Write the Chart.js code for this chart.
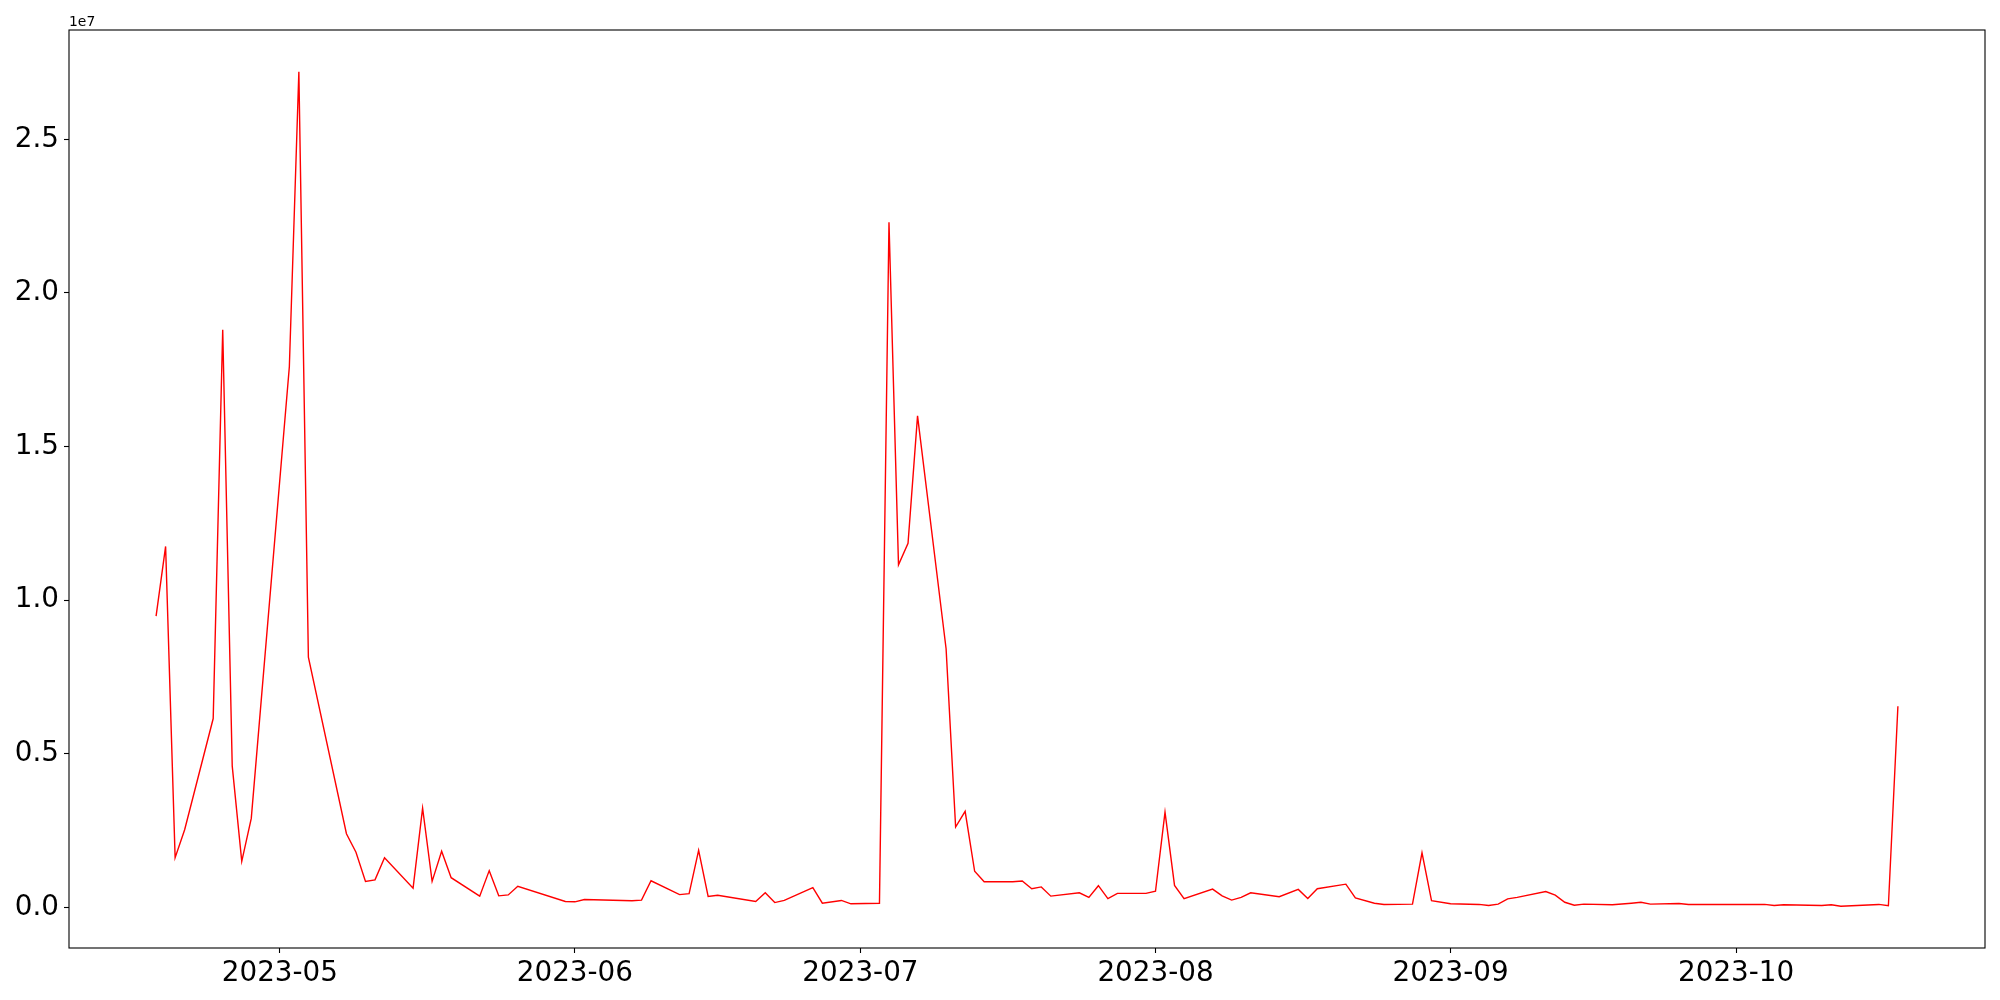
<!DOCTYPE html>
<html>
<head>
<meta charset="utf-8">
<script src="https://cdn.jsdelivr.net/npm/chart.js@4.4.0/dist/chart.umd.min.js"></script>
<style>
  html, body { margin: 0; padding: 0; background: #fff; }
  canvas { display: block; }
</style>
</head>
<body>
<canvas id="seriesChart" width="2000" height="1000"></canvas>
<script>
// dates and values
const dates = [
  "2023-04-18","2023-04-19","2023-04-20","2023-04-21","2023-04-24","2023-04-25","2023-04-26","2023-04-27","2023-04-28",
  "2023-05-02","2023-05-03","2023-05-04","2023-05-08","2023-05-09","2023-05-10","2023-05-11","2023-05-12",
  "2023-05-15","2023-05-16","2023-05-17","2023-05-18","2023-05-19","2023-05-22","2023-05-23","2023-05-24","2023-05-25","2023-05-26",
  "2023-05-31","2023-06-01","2023-06-02","2023-06-07","2023-06-08","2023-06-09",
  "2023-06-12","2023-06-13","2023-06-14","2023-06-15","2023-06-16","2023-06-20","2023-06-21","2023-06-22","2023-06-23",
  "2023-06-26","2023-06-27","2023-06-29","2023-06-30",
  "2023-07-03","2023-07-04","2023-07-05","2023-07-06","2023-07-07","2023-07-10","2023-07-11","2023-07-12","2023-07-13","2023-07-14",
  "2023-07-17","2023-07-18","2023-07-19","2023-07-20","2023-07-21","2023-07-24","2023-07-25","2023-07-26","2023-07-27","2023-07-28",
  "2023-07-31","2023-08-01","2023-08-02","2023-08-03","2023-08-04","2023-08-07","2023-08-08","2023-08-09","2023-08-10","2023-08-11",
  "2023-08-14","2023-08-16","2023-08-17","2023-08-18","2023-08-21","2023-08-22","2023-08-24","2023-08-25",
  "2023-08-28","2023-08-29","2023-08-30","2023-09-01","2023-09-04","2023-09-05","2023-09-06","2023-09-07","2023-09-08",
  "2023-09-11","2023-09-12","2023-09-13","2023-09-14","2023-09-15","2023-09-18","2023-09-20","2023-09-21","2023-09-22",
  "2023-09-25","2023-09-26","2023-09-27","2023-09-28","2023-10-04","2023-10-05","2023-10-06",
  "2023-10-10","2023-10-11","2023-10-12","2023-10-16","2023-10-17","2023-10-18"
];
const values = [
  9480000,11750000,1620000,2530000,6150000,18800000,4600000,1500000,2900000,
  17600000,27200000,8150000,2400000,1800000,850000,900000,1620000,
  630000,3230000,850000,1830000,970000,370000,1200000,380000,410000,690000,
  195000,185000,260000,220000,240000,870000,
  420000,450000,1860000,360000,400000,195000,480000,160000,230000,
  650000,140000,230000,120000,
  140000,22300000,11150000,11850000,16000000,8420000,2620000,3130000,1180000,840000,
  840000,860000,610000,670000,370000,480000,330000,710000,290000,460000,
  460000,530000,3100000,720000,290000,600000,380000,240000,330000,480000,
  350000,590000,290000,610000,760000,310000,140000,100000,
  110000,1780000,220000,120000,100000,65000,110000,280000,330000,
  520000,400000,170000,75000,110000,90000,140000,170000,110000,
  130000,100000,100000,100000,100000,65000,90000,
  65000,90000,40000,100000,55000,6550000
];

const xTickDates = ["2023-05-01","2023-06-01","2023-07-01","2023-08-01","2023-09-01","2023-10-01"];
const xTickLabels = ["2023-05","2023-06","2023-07","2023-08","2023-09","2023-10"];
const yTickValues = [0, 5000000, 10000000, 15000000, 20000000, 25000000];
const yTickLabels = ["0.0","0.5","1.0","1.5","2.0","2.5"];
const offsetText = "1e7";

function toDay(s) {
  const p = s.split("-").map(Number);
  return Date.UTC(p[0], p[1] - 1, p[2]) / 864e5;
}

const days = dates.map(toDay);
const points = days.map((d, i) => ({ x: d, y: values[i] }));

// matplotlib style 5% margins
const xMin = Math.min(...days), xMax = Math.max(...days);
const xPad = (xMax - xMin) * 0.05;
const yMin = Math.min(...values), yMax = Math.max(...values);
const yPad = (yMax - yMin) * 0.05;

const font = { family: "DejaVu Sans", size: 27.8 };

const framePlugin = {
  id: "frame",
  afterDraw(chart) {
    const a = chart.chartArea, ctx = chart.ctx;
    ctx.save();
    ctx.strokeStyle = "#000";
    ctx.lineWidth = 1.1;
    ctx.strokeRect(a.left, a.top, a.right - a.left, a.bottom - a.top);
    ctx.fillStyle = "#000";
    ctx.font = "13.9px DejaVu Sans";
    ctx.textAlign = "left";
    ctx.textBaseline = "alphabetic";
    ctx.fillText(offsetText, a.left, a.top - 4);
    ctx.restore();
  }
};

new Chart(document.getElementById("seriesChart").getContext("2d"), {
  type: "line",
  data: {
    datasets: [{
      data: points,
      borderColor: "#ff0000",
      borderWidth: 1.4,
      pointRadius: 0,
      tension: 0,
      fill: false
    }]
  },
  options: {
    responsive: false,
    animation: false,
    devicePixelRatio: 1,
    layout: { padding: { top: 30, right: 15, left: 0, bottom: 0 } },
    plugins: { legend: { display: false }, tooltip: { enabled: false } },
    scales: {
      x: {
        type: "linear",
        min: xMin - xPad,
        max: xMax + xPad,
        afterBuildTicks: s => { s.ticks = xTickDates.map(d => ({ value: toDay(d) })); },
        afterFit: s => { s.height = 52; },
        ticks: {
          autoSkip: false,
          maxRotation: 0,
          padding: 4,
          color: "#000",
          font: font,
          callback: (v, i) => xTickLabels[i]
        },
        grid: { drawOnChartArea: false, tickLength: 5, tickWidth: 1.1, tickColor: "#000" },
        border: { display: false }
      },
      y: {
        min: yMin - yPad,
        max: yMax + yPad,
        afterBuildTicks: s => { s.ticks = yTickValues.map(v => ({ value: v })); },
        afterFit: s => { s.width = 69; },
        ticks: {
          padding: 5,
          color: "#000",
          font: font,
          callback: (v, i) => yTickLabels[i]
        },
        grid: { drawOnChartArea: false, tickLength: 5, tickWidth: 1.1, tickColor: "#000" },
        border: { display: false }
      }
    }
  },
  plugins: [framePlugin]
});
</script>
</body>
</html>
